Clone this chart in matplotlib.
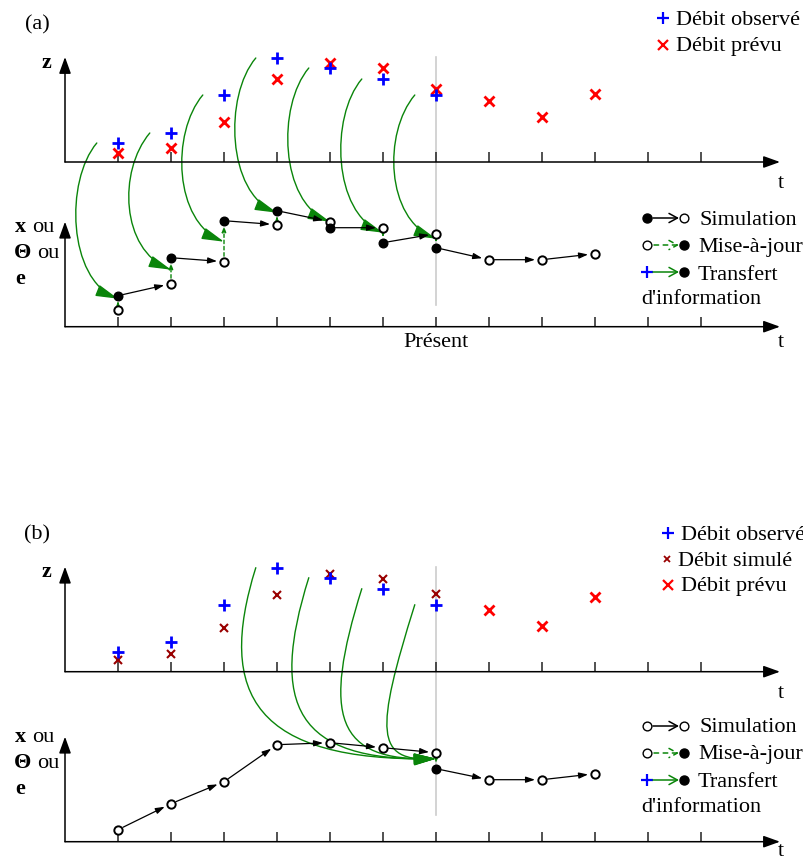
import matplotlib
matplotlib.use("Agg")
import matplotlib.pyplot as plt
import matplotlib.transforms as mtransforms
from matplotlib.patches import FancyArrowPatch
from matplotlib.path import Path

plt.rcParams['font.family'] = ['Liberation Serif', 'DejaVu Serif']

W, H = 804, 861
PX_T = 53.0   # pixels per time step
PX_V = 10.0   # pixels per value unit
X0 = 65.0     # pixel x of t=0

# ---- values ----
t_obs = [1, 2, 3, 4, 5, 6, 7]
t_all = [1, 2, 3, 4, 5, 6, 7, 8, 9, 10]
present = 7

# panel (a)
obs_a = [1.9, 2.9, 6.7, 10.4, 9.4, 8.3, 6.7]
prevu_a = [0.9, 1.4, 4.0, 8.3, 9.9, 9.4, 7.3, 6.1, 4.5, 6.8]
open_a = [1.7, 4.3, 6.5, 10.2, 10.5, 9.9, 9.3, 6.7, 6.7, 7.3]
filled_a = [3.1, 6.9, 10.6, 11.6, 9.9, 8.4, 7.9]
tip_a = [2.8, 5.7, 8.5, 11.4, 10.5, 9.4, 8.8]

# panel (b)
obs_b = [2.0, 3.0, 6.7, 10.4, 9.4, 8.3, 6.7]
simule_b = [1.2, 1.8, 4.4, 7.7, 9.8, 9.3, 7.8]
t_prevu_b = [8, 9, 10]
prevu_b = [6.2, 4.6, 7.5]
open_b = [1.2, 3.8, 6.0, 9.7, 9.9, 9.4, 8.9, 6.2, 6.2, 6.8]
t_filled_b = [7]
filled_b = [7.3]
t_transfer_b = [4, 5, 6, 7]
tip_b = 8.3

# pixel y of each time axis
BASE_AZ, BASE_AS, BASE_BZ, BASE_BS = 162.0, 326.7, 671.7, 841.7

GREEN = '#0a850a'
BLUE = '#0000ff'
RED = '#ff0000'
DARKRED = '#990000'

fig = plt.figure(figsize=(W / 100, H / 100), dpi=100)
ax = fig.add_axes([0, 0, 1, 1])
ax.set_xlim(-X0 / PX_T, (W - X0) / PX_T)
ax.set_ylim(-H / PX_V, 0)
ax.set_autoscale_on(False)
ax.axis('off')

# pixel coordinates, origin top-left (for labels and legend glyphs)
pix = mtransforms.Affine2D().scale(1 / W, -1 / H).translate(0, 1) + fig.transFigure


def panel_tr(base):
    return mtransforms.Affine2D().translate(0, -base / PX_V) + ax.transData


def gy(v, base):
    return v - base / PX_V


tr_az, tr_as = panel_tr(BASE_AZ), panel_tr(BASE_AS)
tr_bz, tr_bs = panel_tr(BASE_BZ), panel_tr(BASE_BS)


def draw_axes(tr):
    head = dict(arrowstyle='-|>,head_length=0.5,head_width=0.18', mutation_scale=20,
                lw=1.1, color='black', shrinkA=0, shrinkB=0)
    ax.annotate('', xy=(13.49, 0), xytext=(0, 0), xycoords=tr, arrowprops=head)
    ax.annotate('', xy=(0, 10.5), xytext=(0, 0), xycoords=tr, arrowprops=head)
    ax.vlines(range(1, 13), 0, 1.0, transform=tr, color='#222222', lw=1.1)


def sim_arrow(t0, v0, t1, v1, tr):
    ax.annotate('', xy=(t1, v1), xytext=(t0, v0), xycoords=tr,
                arrowprops=dict(arrowstyle='-|>,head_length=0.45,head_width=0.15',
                                mutation_scale=12, lw=0.9, color='black',
                                shrinkA=4, shrinkB=5), zorder=3)


def upd_arrow(t, v0, v1, tr):
    ax.annotate('', xy=(t, v1), xytext=(t, v0), xycoords=tr,
                arrowprops=dict(arrowstyle='-|>,head_length=0.4,head_width=0.15',
                                mutation_scale=8, lw=1.0, color=GREEN, linestyle=(0, (2.5, 2)),
                                shrinkA=4, shrinkB=4), zorder=3)


def transfer(t0, v0, b0, t1, v1, b1, c1, c2):
    # cubic curve from an observation (upper panel) to a state (lower panel);
    # c1, c2 = control point offsets in pixels (right, down)
    S = (t0, gy(v0, b0))
    E = (t1, gy(v1, b1))
    C1 = (S[0] + c1[0] / PX_T, S[1] - c1[1] / PX_V)
    C2 = (E[0] + c2[0] / PX_T, E[1] - c2[1] / PX_V)
    p = Path([S, C1, C2, E], [Path.MOVETO, Path.CURVE4, Path.CURVE4, Path.CURVE4])
    arr = FancyArrowPatch(path=p, arrowstyle='-|>,head_length=0.68,head_width=0.18',
                          mutation_scale=20, lw=1.0, color=GREEN, zorder=2)
    ax.add_patch(arr)


def open_pts(t, v, tr, ms=6.0):
    ax.plot(t, v, 'o', ms=ms, mfc='white', mec='black', mew=1.4, transform=tr, zorder=5)


def filled_pts(t, v, tr, ms=6.2):
    ax.plot(t, v, 'o', ms=ms, color='black', transform=tr, zorder=5)


for tr in (tr_az, tr_as, tr_bz, tr_bs):
    draw_axes(tr)

# "Présent" line
ax.plot([present, present], [gy(10.5, BASE_AZ), gy(2.2, BASE_AS)], color='#cccccc', lw=1.2, zorder=1)
ax.plot([present, present], [gy(10.5, BASE_BZ), gy(2.7, BASE_BS)], color='#cccccc', lw=1.2, zorder=1)

# ---------- panel (a) ----------
ax.plot(t_all, prevu_a, 'x', color=RED, ms=7.5, mew=2.0, transform=tr_az, zorder=4)
ax.plot(t_obs, obs_a, '+', color=BLUE, ms=9, mew=2.0, transform=tr_az, zorder=4)

for i, t in enumerate(t_obs):
    transfer(t - 0.4, obs_a[i], BASE_AZ, t, tip_a[i], BASE_AS, (-32, 38), (-50, -20))
    upd_arrow(t, open_a[i], filled_a[i], tr_as)

for i, t in enumerate(t_obs):
    sim_arrow(t, filled_a[i], t + 1, open_a[i + 1], tr_as)
for i in range(7, 9):
    sim_arrow(t_all[i], open_a[i], t_all[i + 1], open_a[i + 1], tr_as)

open_pts(t_all, open_a, tr_as)
filled_pts(t_obs, filled_a, tr_as)

# ---------- panel (b) ----------
ax.plot(t_obs, simule_b, 'x', color=DARKRED, ms=5.5, mew=1.5, transform=tr_bz, zorder=4)
ax.plot(t_obs, obs_b, '+', color=BLUE, ms=9, mew=2.0, transform=tr_bz, zorder=4)
ax.plot(t_prevu_b, prevu_b, 'x', color=RED, ms=7.5, mew=2.0, transform=tr_bz, zorder=4)

for t in t_transfer_b:
    dx = (present - t + 0.4) * PX_T
    transfer(t - 0.4, obs_b[t - 1], BASE_BZ, present, tip_b, BASE_BS,
             (-40, 0.75 * (BASE_BS - BASE_BZ)), (-(0.75 * dx + 45), 3))

for i in range(6):
    sim_arrow(t_all[i], open_b[i], t_all[i + 1], open_b[i + 1], tr_bs)
sim_arrow(t_filled_b[0], filled_b[0], 8, open_b[7], tr_bs)
for i in range(7, 9):
    sim_arrow(t_all[i], open_b[i], t_all[i + 1], open_b[i + 1], tr_bs)
upd_arrow(t_filled_b[0], open_b[6], filled_b[0], tr_bs)

open_pts(t_all, open_b, tr_bs)
filled_pts(t_filled_b, filled_b, tr_bs)

# ---------- texts (baseline positions) ----------
FS = 16


def txt(x, y, s, **kw):
    kw.setdefault('fontsize', FS)
    kw.setdefault('va', 'baseline')
    ax.text(x, y, s, transform=pix, **kw)


for dy, lab in ((0, '(a)'), (510, '(b)')):
    txt(37, 29 + dy, lab, ha='center')
for yb in (68, 577):
    txt(46, yb, 'z', ha='center', fontweight='bold')

for y0 in (231.5, 741.5):
    txt(15, y0, 'x', fontweight='bold')
    txt(32, y0, 'ou')
    txt(14, y0 + 26.5, 'Θ', fontweight='bold')
    txt(37, y0 + 26.5, 'ou')
    txt(15, y0 + 52.5, 'e', fontweight='bold')

for yb in (188, 347, 698, 856):
    txt(781, yb, 't', ha='center')
txt(436, 347, 'Présent', ha='center')

# legend (a) top
ax.plot([663], [18], '+', color=BLUE, ms=8.5, mew=1.6, transform=pix)
txt(676, 25, 'Débit observé')
ax.plot([663], [45], 'x', color=RED, ms=6.5, mew=1.6, transform=pix)
txt(676, 51.5, 'Débit prévu')

# legend (b) top
ax.plot([668], [533], '+', color=BLUE, ms=8.5, mew=1.6, transform=pix)
txt(681, 540.5, 'Débit observé')
ax.plot([667], [559], 'x', color=DARKRED, ms=5, mew=1.3, transform=pix)
txt(678, 566, 'Débit simulé')
ax.plot([668], [585], 'x', color=RED, ms=6.5, mew=1.6, transform=pix)
txt(681, 591.5, 'Débit prévu')


def leg_dot(x, y, filled):
    if filled:
        ax.plot([x], [y], 'o', ms=6.5, color='black', transform=pix, zorder=5)
    else:
        ax.plot([x], [y], 'o', ms=6.3, mfc='white', mec='black', mew=1.0, transform=pix, zorder=5)


def leg_arrow(x0, x1, y, color, ls='-'):
    ax.annotate('', xy=(x1, y), xytext=(x0, y), xycoords=pix,
                arrowprops=dict(arrowstyle='->,head_length=0.55,head_width=0.3', mutation_scale=11,
                                lw=1.1, color=color, linestyle=ls, shrinkA=0, shrinkB=0))


for y0, yb, first_filled in ((218, 225, True), (726, 732.5, False)):
    leg_dot(647, y0, first_filled)
    leg_arrow(653, 679, y0, 'black')
    leg_dot(684, y0, False)
    txt(700, yb, 'Simulation')

    leg_dot(647, y0 + 27, False)
    leg_arrow(654, 679, y0 + 27, GREEN, ls=(0, (3, 3)))
    leg_dot(684, y0 + 27, True)
    txt(698, yb + 27, 'Mise-à-jour')

    ax.plot([647], [y0 + 54], '+', color=BLUE, ms=9, mew=1.6, transform=pix)
    leg_arrow(653, 679, y0 + 54, GREEN)
    leg_dot(684, y0 + 54, True)
    txt(698, yb + 54.5, 'Transfert')
    txt(641, yb + 79, "d'information")

fig.savefig('out.png', dpi=100)
